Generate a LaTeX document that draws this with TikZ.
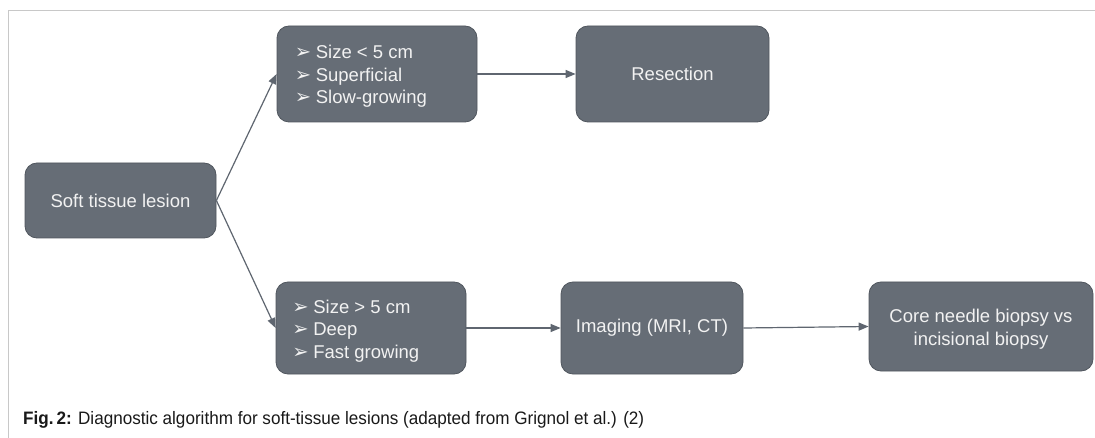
\documentclass[tikz,border=0pt]{standalone}
\usepackage{fontspec}
\setmainfont{Liberation Sans}
\newfontfamily\dejavu{DejaVu Sans}
\newfontfamily\capfont[FakeStretch=0.95]{Liberation Sans}
\usetikzlibrary{arrows.meta}
\definecolor{boxfill}{RGB}{102,109,118}
\definecolor{boxline}{RGB}{80,86,94}
\definecolor{boxtext}{RGB}{242,242,242}
\definecolor{arrowcol}{RGB}{95,102,112}
\definecolor{framecol}{RGB}{200,200,200}
\newcommand{\bul}{\makebox[21pt][l]{\fontsize{19.5}{22.5}\selectfont\dejavu ➢}}
\newcommand{\lines}[2][l]{\begin{tabular}{@{}#1@{}}#2\end{tabular}}
\tikzset{
  flowbox/.style={draw=boxline, line width=0.8pt, fill=boxfill, rounded corners=12pt,
    text=boxtext, font=\fontsize{18.5}{22.5}\selectfont, align=center, inner sep=0pt},
  listtext/.style={text=boxtext, font=\fontsize{18.5}{22.5}\selectfont, inner sep=0pt},
  conn/.style={draw=arrowcol, line width=1.2pt, -{Triangle[length=10pt,width=8pt]}}
}
\begin{document}
\begin{tikzpicture}[x=1pt,y=-1pt]
\useasboundingbox (0,0) rectangle (1095,438);
\fill[white] (0,0) rectangle (1095,438);
\draw[framecol, line width=1.5pt] (1096,10.5) -- (8.5,10.5) -- (8.5,439);

\node[flowbox, minimum width=191pt, minimum height=75pt] (soft) at (120.5,200.5) {Soft tissue lesion};
\node[flowbox, minimum width=200pt, minimum height=96pt] (small) at (377,74) {};
\node[listtext, anchor=west] (smalltxt) at ([xshift=18pt,yshift=-3pt]small.west)
  {\lines{\bul Size < 5 cm\\ \bul Superficial\\ \bul Slow-growing}};
\node[flowbox, minimum width=193pt, minimum height=96pt] (resect) at (672.5,74) {Resection};
\node[flowbox, minimum width=190pt, minimum height=92pt] (large) at (371,328) {};
\node[listtext, anchor=west] (largetxt) at ([xshift=16.5pt,yshift=-3pt]large.west)
  {\lines{\bul Size > 5 cm\\ \bul Deep\\ \bul Fast growing}};
\node[flowbox, minimum width=182pt, minimum height=92pt] (imaging) at (652,328) {Imaging (MRI, CT)};
\node[flowbox, minimum width=224pt, minimum height=89pt] (core) at (981,326.5) {};
\node[listtext] (coretxt) at ([yshift=-3pt]core.center)
  {\lines[c]{Core needle biopsy vs\\incisional biopsy}};

\draw[conn] (soft.east) -- (small.west);
\draw[conn] (soft.east) -- (large.west);
\draw[conn] (small.east) -- (resect.west);
\draw[conn] (large.east) -- (imaging.west);
\draw[conn] (imaging.east) -- (core.west);

\node[anchor=base west, inner sep=0pt, text=black!90, font=\capfont\fontsize{18}{18}\selectfont] (caption) at (23,424)
  {\textbf{Fig.\,2:} Diagnostic algorithm for soft-tissue lesions (adapted from Grignol et al.) (2)};
\end{tikzpicture}
\end{document}
